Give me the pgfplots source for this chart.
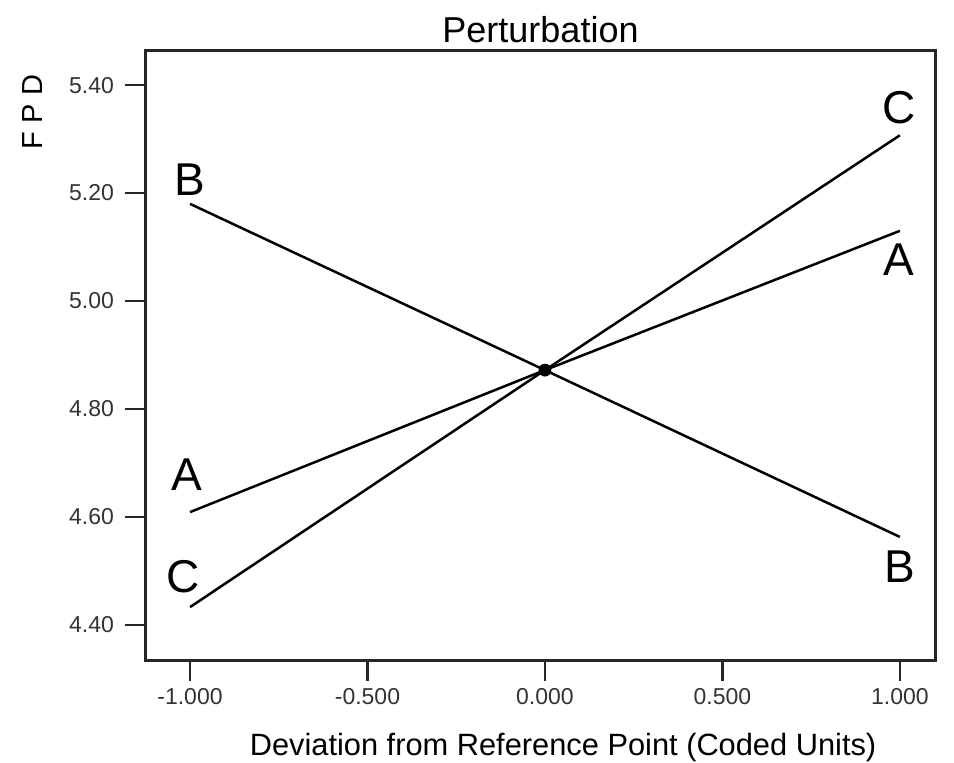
\documentclass[border=0pt]{standalone}
\usepackage{pgfplots}
\pgfplotsset{compat=1.18}
\usepackage{fontspec}
\setmainfont{Liberation Sans}
\begin{document}
\begin{tikzpicture}
\useasboundingbox (-73pt,-51pt) rectangle (404pt,330pt);
\begin{axis}[
  at={(0,0)}, anchor=south west,
  scale only axis, width=394.5pt, height=305pt,
  xmin=-1.124, xmax=1.099, ymin=4.335, ymax=5.465,
  axis line style={line width=1.5pt, black!85},
  xtick={-1,-0.5,0,0.5,1},
  ytick={4.4,4.6,4.8,5.0,5.2,5.4},
  xtick pos=bottom, ytick pos=left,
  tick align=outside, major tick length=10.5pt,
  tick style={line width=1.3pt, black!85},
  /pgf/number format/assume math mode=true,
  ticklabel style={font=\fontsize{11.5}{13}\selectfont, text=black!80},
  xticklabel style={/pgf/number format/.cd, fixed, fixed zerofill, precision=3},
  yticklabel style={xshift=-2pt, /pgf/number format/.cd, fixed, fixed zerofill, precision=2},
  title={Perturbation},
  title style={font=\fontsize{18}{21}\selectfont, at={(0.5,1)}, anchor=base, yshift=-2pt},
  xlabel={Deviation from Reference Point (Coded Units)},
  xlabel style={font=\fontsize{15.4}{18}\selectfont, at={(0.5286,0)}, anchor=base, yshift=-47.5pt},
  clip=false,
]
\addplot[black, line width=1.25pt] coordinates {(-1,4.609) (0,4.872) (1,5.130)};
\addplot[black, line width=1.25pt] coordinates {(-1,5.180) (0,4.872) (1,4.563)};
\addplot[black, line width=1.25pt] coordinates {(-1,4.433) (0,4.872) (1,5.307)};
\addplot[only marks, mark=*, mark size=3pt, black] coordinates {(0,4.872)};
\node[font=\fontsize{23}{26}\selectfont, inner sep=0pt] at (axis cs:-1.000,5.224) {B};
\node[font=\fontsize{23}{26}\selectfont, inner sep=0pt] at (axis cs:-1.008,4.678) {A};
\node[font=\fontsize{23}{26}\selectfont, inner sep=0pt] at (axis cs:-1.020,4.489) {C};
\node[font=\fontsize{23}{26}\selectfont, inner sep=0pt] at (axis cs:0.997,5.359) {C};
\node[font=\fontsize{23}{26}\selectfont, inner sep=0pt] at (axis cs:0.997,5.076) {A};
\node[font=\fontsize{23}{26}\selectfont, inner sep=0pt] at (axis cs:1.000,4.507) {B};
\end{axis}
\node[rotate=90, anchor=base, font=\fontsize{14.5}{17}\selectfont] at (-51.5pt,274pt) {F\hspace{4pt}P\hspace{4pt}D};
\end{tikzpicture}
\end{document}
